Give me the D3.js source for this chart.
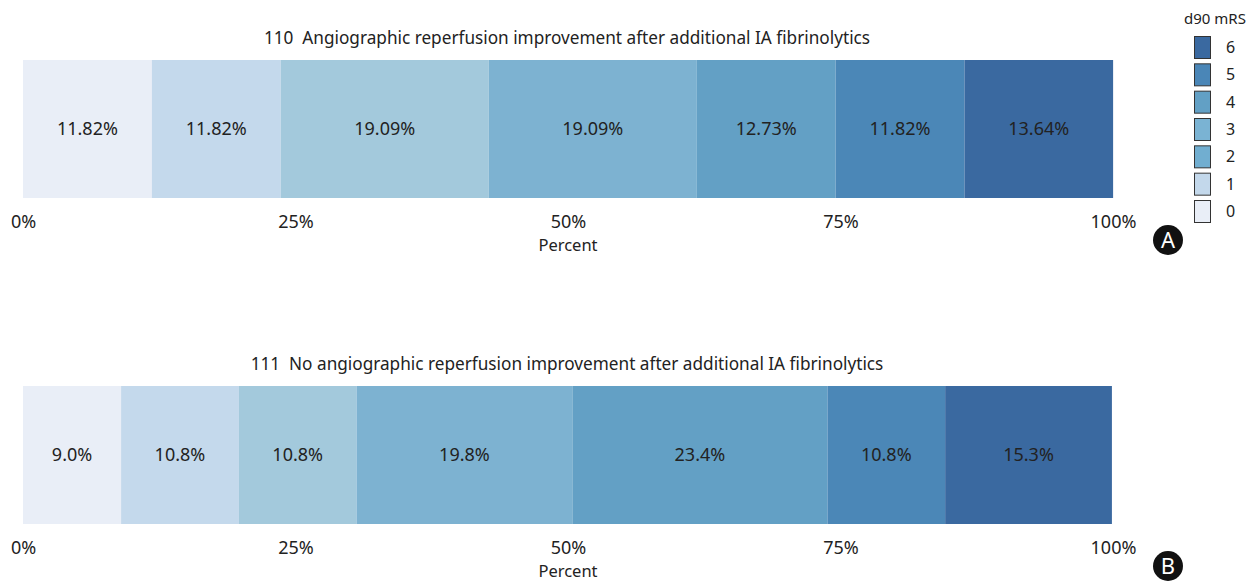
<!DOCTYPE html>
<html><head><meta charset="utf-8">
<script src="https://cdn.jsdelivr.net/npm/d3@7"></script>
<style>body{margin:0;background:#fff}svg{display:block}text{font-family:"Noto Sans",sans-serif;fill:#222;white-space:pre}</style>
</head><body><svg id="c" width="1247" height="581"></svg>
<script>
const categories = ["0","1","2","3","4","5","6"];
const valuesA = [11.82, 11.82, 19.09, 19.09, 12.73, 11.82, 13.64];
const labelsA = ["11.82%","11.82%","19.09%","19.09%","12.73%","11.82%","13.64%"];
const valuesB = [9.0, 10.8, 10.8, 19.8, 23.4, 10.8, 15.3];
const labelsB = ["9.0%","10.8%","10.8%","19.8%","23.4%","10.8%","15.3%"];
const titleA = "110  Angiographic reperfusion improvement after additional IA fibrinolytics";
const titleB = "111  No angiographic reperfusion improvement after additional IA fibrinolytics";
const tickValues = [0,25,50,75,100];
const barColors = ["#e9eef7","#c4d9ec","#a3c9dc","#7db2d1","#63a0c5","#4b87b7","#3a69a0"];
const legendColors = ["#e9eef7","#c3d8eb","#71aed0","#7ab3d3","#62a0c5","#4a86b7","#3a69a0"];

const svg = d3.select("#c");
const x = d3.scaleLinear().domain([0,100]).range([23,1113]);
const color = d3.scaleOrdinal().domain(categories).range(barColors);

function panel(vals, labs, title, top, letter){
  const g = svg.append("g");
  let cum = 0;
  const segs = vals.map((v,i)=>{const s={c:categories[i],x0:cum,x1:cum+v,lab:labs[i]};cum+=v;return s;});
  g.append("text").attr("x", 567).attr("y", top-16).attr("text-anchor","middle").attr("font-size",17.2).text(title);
  g.selectAll("rect").data(segs).join("rect")
    .attr("x",d=>x(d.x0)).attr("width",d=>x(d.x1)-x(d.x0)).attr("y",top).attr("height",138)
    .attr("fill",d=>color(d.c));
  g.selectAll("text.v").data(segs).join("text").attr("class","v")
    .attr("x",d=>(x(d.x0)+x(d.x1))/2).attr("y",top+69).attr("dy","0.35em")
    .attr("text-anchor","middle").attr("font-size",18).text(d=>d.lab);
  const ax = g.append("g").attr("transform",`translate(0,${top+138})`)
    .call(d3.axisBottom(x).tickValues(tickValues).tickSize(0).tickPadding(17).tickFormat(d=>d+"%"));
  ax.select(".domain").remove();
  ax.selectAll("text").attr("font-size",18).attr("font-family","Noto Sans").attr("fill","#222");
  g.append("text").attr("x",x(50)).attr("y",top+191).attr("text-anchor","middle").attr("font-size",16.5).text("Percent");
  const cy = top+180;
  g.append("circle").attr("cx",1168).attr("cy",cy).attr("r",15).attr("fill","#111");
  g.append("text").attr("x",1168).attr("y",cy).attr("dy","0.36em").attr("text-anchor","middle")
    .attr("font-size",22).style("fill","#fff").text(letter);
}
panel(valuesA, labelsA, titleA, 60, "A");
panel(valuesB, labelsB, titleB, 386, "B");

// legend
const lg = svg.append("g");
lg.append("text").attr("x",1215).attr("y",24).attr("text-anchor","middle").attr("font-size",15).text("d90 mRS");
const order = categories.slice().reverse();
const ly = d3.scalePoint().domain(order).range([36,200]);
lg.selectAll("rect").data(order).join("rect")
  .attr("x",1194.5).attr("y",d=>ly(d)+0.5).attr("width",16).attr("height",22)
  .attr("fill",d=>legendColors[+d]).attr("stroke","#333").attr("stroke-width",1);
lg.selectAll("text.l").data(order).join("text").attr("class","l")
  .attr("x",1226).attr("y",d=>ly(d)+11.5).attr("dy","0.35em").attr("font-size",16).text(d=>d);
</script></body></html>
